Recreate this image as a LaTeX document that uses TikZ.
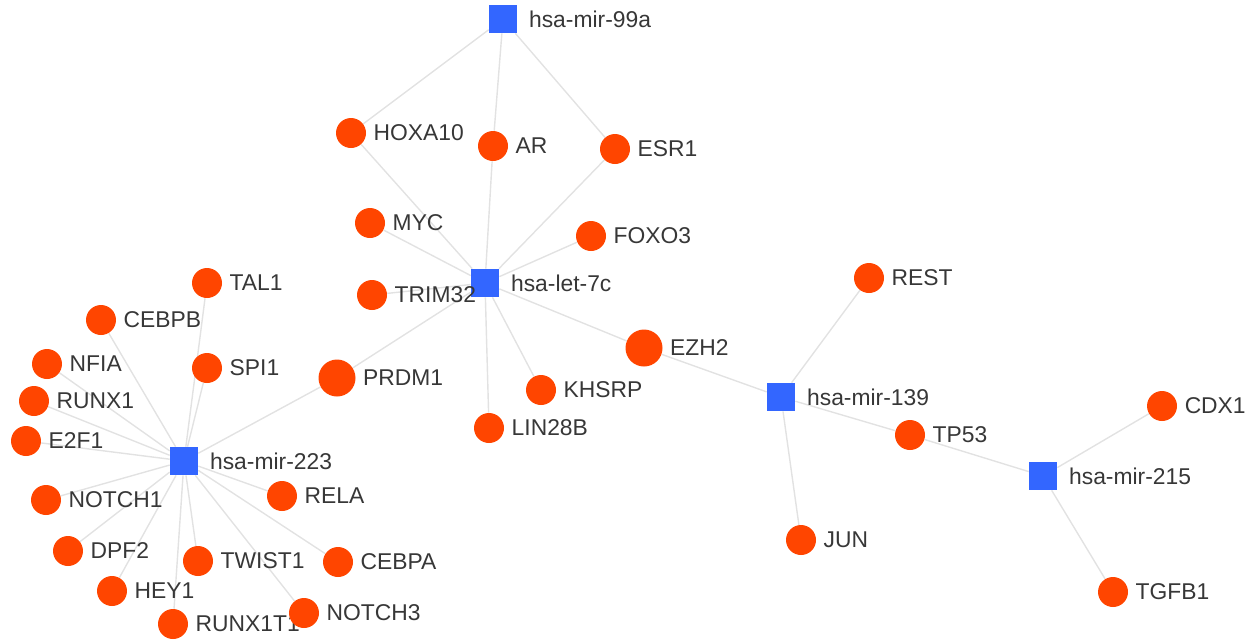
\documentclass[tikz,border=0pt]{standalone}
\usepackage{fontspec}
\setmainfont{Liberation Sans}
\usepackage{xcolor}
\usetikzlibrary{backgrounds}
\definecolor{mirblue}{RGB}{51,102,255}
\definecolor{geneorange}{RGB}{255,69,0}
\definecolor{edgegray}{RGB}{226,226,226}
\definecolor{labelgray}{RGB}{55,55,55}

\begin{document}
\begin{tikzpicture}[
      x=0.02cm, y=-0.02cm,
      lbl/.style={text=labelgray, font=\fontsize{13}{15}\selectfont, inner sep=0pt},
      mir/.style={rectangle, fill=mirblue, minimum size=0.56cm, inner sep=0pt, label={[lbl, xshift=6.5pt]right:#1}},
      gene/.style={circle, fill=geneorange, minimum size=0.6cm, inner sep=0pt, label={[lbl, xshift=4pt]right:#1}},
      big/.style={minimum size=0.74cm},
      link/.style={draw=edgegray, line width=0.8pt}
    ]
    \useasboundingbox (0,0) rectangle (1256,640);

    % miRNAs
    \node[mir=hsa-mir-99a] (m99a) at (503,19) {};
    \node[mir=hsa-let-7c] (let7c) at (485,283) {};
    \node[mir=hsa-mir-223] (m223) at (184,461) {};
    \node[mir=hsa-mir-139] (m139) at (781,397) {};
    \node[mir=hsa-mir-215] (m215) at (1043,476) {};

    % target genes
    \node[gene=HOXA10] (hoxa10) at (351,133) {};
    \node[gene=AR] (ar) at (493,146) {};
    \node[gene=ESR1] (esr1) at (615,149) {};
    \node[gene=MYC] (myc) at (370,223) {};
    \node[gene=FOXO3] (foxo3) at (591,236) {};
    \node[gene=TRIM32] (trim32) at (372,295) {};
    \node[gene=REST] (rest) at (869,278) {};
    \node[gene=TAL1] (tal1) at (207,283) {};
    \node[gene=CEBPB] (cebpb) at (101,320) {};
    \node[gene=NFIA] (nfia) at (47,364) {};
    \node[gene=SPI1] (spi1) at (207,368) {};
    \node[gene=PRDM1, big] (prdm1) at (337,378) {};
    \node[gene=EZH2, big] (ezh2) at (644,348) {};
    \node[gene=KHSRP] (khsrp) at (541,390) {};
    \node[gene=RUNX1] (runx1) at (34,401) {};
    \node[gene=LIN28B] (lin28b) at (489,428) {};
    \node[gene=E2F1] (e2f1) at (26,441) {};
    \node[gene=TP53] (tp53) at (910,435) {};
    \node[gene=CDX1] (cdx1) at (1162,406) {};
    \node[gene=NOTCH1] (notch1) at (46,500) {};
    \node[gene=RELA] (rela) at (282,496) {};
    \node[gene=DPF2] (dpf2) at (68,551) {};
    \node[gene=TWIST1] (twist1) at (198,561) {};
    \node[gene=CEBPA] (cebpa) at (338,562) {};
    \node[gene=JUN] (jun) at (801,540) {};
    \node[gene=HEY1] (hey1) at (112,591) {};
    \node[gene=RUNX1T1] (runx1t1) at (173,624) {};
    \node[gene=NOTCH3] (notch3) at (304,613) {};
    \node[gene=TGFB1] (tgfb1) at (1113,592) {};

    \begin{scope}[on background layer]
      \foreach \g in {hoxa10, ar, esr1}
        \draw[link] (m99a) -- (\g);
      \foreach \g in {hoxa10, ar, esr1, myc, foxo3, trim32, prdm1, lin28b, khsrp, ezh2}
        \draw[link] (let7c) -- (\g);
      \foreach \g in {tal1, cebpb, nfia, runx1, e2f1, spi1, prdm1, notch1, dpf2, hey1, runx1t1, twist1, rela, cebpa, notch3}
        \draw[link] (m223) -- (\g);
      \foreach \g in {ezh2, rest, tp53, jun}
        \draw[link] (m139) -- (\g);
      \foreach \g in {tp53, cdx1, tgfb1}
        \draw[link] (m215) -- (\g);
    \end{scope}
  \end{tikzpicture}
\end{document}
